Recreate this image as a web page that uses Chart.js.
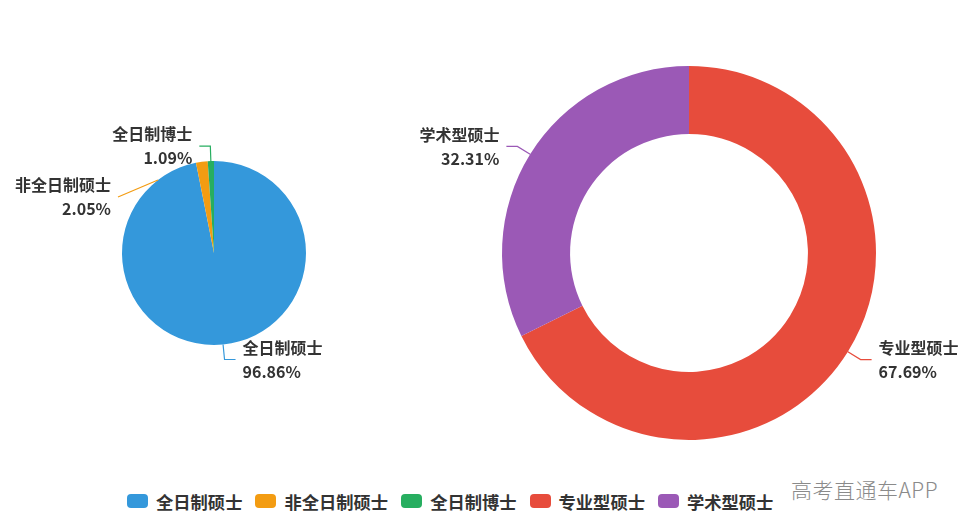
<!DOCTYPE html>
<html>
<head>
<meta charset="utf-8">
<script src="https://cdn.jsdelivr.net/npm/chart.js@4"></script>
<style>
  html, body { margin: 0; padding: 0; background: #fff; }
  body { width: 968px; height: 527px; position: relative; overflow: hidden;
         font-family: "Noto Sans CJK SC", "Noto Sans", sans-serif; }
  .box { position: absolute; top: 0; left: 0; width: 968px; height: 470px; }
  #legend { position: absolute; left: 127px; top: 488px; height: 26px; display: flex; align-items: center; }
  .item { display: flex; align-items: center; margin-right: 13px; font-weight: bold; font-size: 17.3px; color: #333; }
  .swatch { width: 21px; height: 14px; border-radius: 4px; margin-right: 8px; }
  #mark { position: absolute; left: 791px; top: 474px; font-size: 21px; color: #8a8a8a; font-weight: 300; letter-spacing: 0.5px; }
</style>
</head>
<body>
<div class="box"><canvas id="pieLeft"></canvas></div>
<div class="box"><canvas id="pieRight"></canvas></div>
<div id="legend"></div>
<div id="mark">高考直通车APP</div>

<script>
// --- Données ---
const studyLabels = ['全日制硕士', '非全日制硕士', '全日制博士'];
const studyValues = [96.86, 2.05, 1.09];
const studyColors = ['#3498db', '#f39c12', '#27ae60'];

const typeLabels = ['专业型硕士', '学术型硕士'];
const typeValues = [67.69, 32.31];
const typeColors = ['#e74c3c', '#9b59b6'];

// --- Étiquettes avec ligne de rappel ---
const calloutPlugin = {
  id: 'callout',
  afterDatasetsDraw(chart, args, opts) {
    const ctx = chart.ctx;
    const meta = chart.getDatasetMeta(0);
    const labels = chart.data.labels;
    const values = chart.data.datasets[0].data;
    const colors = chart.data.datasets[0].backgroundColor;
    meta.data.forEach((arc, i) => {
      const o = (opts.tweak && opts.tweak[i]) || {};
      const R = arc.outerRadius;
      const a = o.angle !== undefined ? o.angle * Math.PI / 180 : (arc.startAngle + arc.endAngle) / 2;
      const p0 = { x: arc.x + Math.cos(a) * R, y: arc.y + Math.sin(a) * R };
      let p1, p2, side;
      if (o.leg) {
        p1 = { x: p0.x + o.leg[0], y: p0.y + o.leg[1] };
        side = o.leg[0] >= 0 ? 1 : -1;
        p2 = p1;
      } else {
        side = Math.cos(a) >= 0 ? 1 : -1;
        p1 = { x: p0.x + Math.cos(a) * opts.len1, y: p0.y + Math.sin(a) * opts.len1 };
        p2 = { x: p1.x + side * opts.len2, y: p1.y };
      }
      ctx.save();
      ctx.strokeStyle = colors[i];
      ctx.lineWidth = 1.2;
      ctx.beginPath();
      ctx.moveTo(p0.x, p0.y);
      ctx.lineTo(p1.x, p1.y);
      ctx.lineTo(p2.x, p2.y);
      ctx.stroke();
      ctx.fillStyle = '#333';
      ctx.font = 'bold 16px "Noto Sans CJK SC", sans-serif';
      ctx.textBaseline = 'middle';
      ctx.textAlign = side > 0 ? 'left' : 'right';
      const tx = p2.x + side * 7;
      ctx.fillText(labels[i], tx, p2.y - 12);
      ctx.fillText(values[i].toFixed(2) + '%', tx, p2.y + 12);
      ctx.restore();
    });
  }
};

function makePie(id, labels, values, colors, cutout, padding, tweak) {
  return new Chart(document.getElementById(id), {
    type: 'doughnut',
    data: {
      labels,
      datasets: [{ data: values, backgroundColor: colors, borderWidth: 0, hoverOffset: 0 }]
    },
    options: {
      responsive: true,
      maintainAspectRatio: false,
      animation: false,
      cutout,
      layout: { padding },
      plugins: {
        legend: { display: false },
        tooltip: { enabled: false },
        callout: { len1: 15, len2: 11, tweak }
      }
    },
    plugins: [calloutPlugin]
  });
}

makePie('pieLeft', studyLabels, studyValues, studyColors, 0,
  { top: 161, bottom: 125, left: 122, right: 662 },
  { 1: { angle: 232.5, leg: [-40, 17] } });

makePie('pieRight', typeLabels, typeValues, typeColors, '63.6%',
  { top: 66, bottom: 30, left: 502, right: 92 }, {});

// --- Légende ---
const legend = document.getElementById('legend');
studyLabels.concat(typeLabels).forEach((name, i) => {
  const color = studyColors.concat(typeColors)[i];
  const item = document.createElement('div');
  item.className = 'item';
  item.innerHTML = `<span class="swatch" style="background:${color}"></span>${name}`;
  legend.appendChild(item);
});
</script>
</body>
</html>
